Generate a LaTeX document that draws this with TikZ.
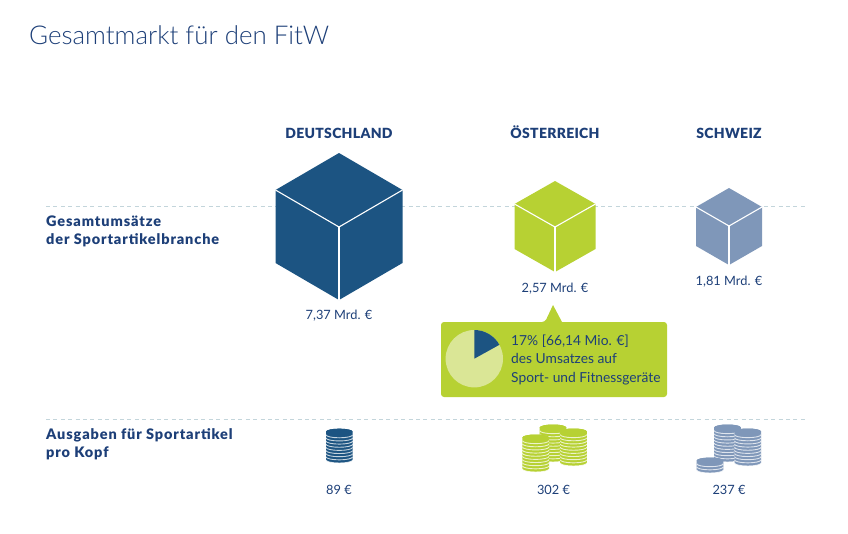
\documentclass[tikz,border=0pt]{standalone}
\usepackage{fontspec}
\setmainfont{Lato}
\newfontfamily\titlefont{Lato Light}
\newfontfamily\headfont[LetterSpace=2]{Lato Black}
\newfontfamily\rowfont[LetterSpace=6]{Lato Black}
\definecolor{deBlue}{HTML}{1C5482}
\definecolor{atGreen}{HTML}{B7D133}
\definecolor{chBlue}{HTML}{7F97B9}
\definecolor{pieLight}{HTML}{DAE696}
\definecolor{textBlue}{HTML}{1D3F78}
\definecolor{dashGrey}{HTML}{C3D5DB}
%% centre x, centre y, half width, rise, edge
\newcommand{\xCube}[5]{%%
  \fill (#1,#2+#4*2) -- (#1+#3,#2+#4) -- (#1+#3,#2+#4-#5) -- (#1,#2-#5)
    -- (#1-#3,#2+#4-#5) -- (#1-#3,#2+#4) -- cycle;
  \draw[cubeEdge] (#1-#3,#2+#4) -- (#1,#2) -- (#1+#3,#2+#4);
  \draw[cubeEdge] (#1,#2) -- (#1,#2-#5);
}
%% colour, centre x, bottom y, number of coins
\newcommand{\xCoins}[4]{%%
  \foreach \i in {1,...,#4}{
    \pgfmathsetmacro{\ycoin}{#3+3+(\i-1)*3.15}
    \fill[#1] (#2-13.3,\ycoin) arc[start angle=180,end angle=360,x radius=13.3,y radius=3]
      -- ++(0,3.15) arc[start angle=0,end angle=180,x radius=13.3,y radius=3] -- cycle;
    \draw[coinEdge] (#2-13.3,\ycoin) arc[start angle=180,end angle=360,x radius=13.3,y radius=3];
  };
  \fill[#1] (#2,#3+3+#4*3.15) ellipse[x radius=13.3,y radius=3];
}
\begin{document}
\begin{tikzpicture}[%%
  x=1pt,y=1pt,
  cubeEdge/.style={white,line width=1.1pt},%%
  coinEdge/.style={white,opacity=0.75,line width=0.9pt},%%
  ruleStyle/.style={dashGrey,line width=1pt,dash pattern=on 4pt off 3.4pt},%%
  titleStyle/.style={anchor=base west,inner sep=0,textBlue,font=\titlefont\fontsize{25.9}{31}\selectfont},%%
  headStyle/.style={anchor=base,inner sep=0,textBlue,font=\headfont\fontsize{14}{17}\selectfont},%%
  rowStyle/.style={anchor=base west,inner sep=0,textBlue,align=left,font=\rowfont\fontsize{14.5}{18}\selectfont},%%
  valueStyle/.style={anchor=base,inner sep=0,textBlue,font=\fontsize{12.8}{16}\selectfont},%%
  noteStyle/.style={anchor=base west,inner sep=0,textBlue,font=\fontsize{13.8}{17}\selectfont}
]
\useasboundingbox (0,0) rectangle (848,-533);
%%
%% The dashed rules.
\coordinate (ruleAw) at (46,-206);
\coordinate (ruleAe) at (805,-206);
\coordinate (ruleBw) at (46,-419);
\coordinate (ruleBe) at (805,-419);
\draw[ruleStyle] (ruleAw) -- (ruleAe);
\draw[ruleStyle] (ruleBw) -- (ruleBe);
%%
%% Texts.
\node[titleStyle] (titleText) at (29,-44) {Gesamtmarkt für den FitW};
\node[headStyle] (headDe) at (339,-138) {DEUTSCHLAND};
\node[headStyle] (headAt) at (555,-138) {ÖSTERREICH};
\node[headStyle] (headCh) at (729,-138) {SCHWEIZ};
\node[rowStyle] (rowSales) at (46,-244.5) {Gesamtumsätze\\der Sportartikelbranche};
\node[rowStyle] (rowSpend) at (46,-457.5) {Ausgaben für Sportartikel\\pro Kopf};
%%
%% The cubes.
\begin{scope}[deBlue]
  \xCube{339}{-227}{63.5}{37}{73}
\end{scope}
\begin{scope}[atGreen]
  \xCube{555}{-227}{40.5}{23}{45}
\end{scope}
\begin{scope}[chBlue]
  \xCube{729}{-226}{33}{19}{39}
\end{scope}
\node[valueStyle] (valDe) at (339,-319) {7,37 Mrd. €};
\node[valueStyle] (valAt) at (555,-292) {2,57 Mrd. €};
\node[valueStyle] (valCh) at (729,-285) {1,81 Mrd. €};
%%
%% The callout.
\fill[atGreen,rounded corners=3pt] (500,-322) -- (545,-322) [sharp corners] -- (553,-305) -- (562,-322)
  [rounded corners=3pt] -- (667,-322) -- (667,-397) -- (441,-397) -- (441,-322) -- cycle;
\fill[pieLight] (474.3,-358.7) circle[radius=28.7];
\fill[deBlue] (474.3,-358.7) -- (474.3,-330) arc[start angle=90,end angle=29,radius=28.7] -- cycle;
\node[noteStyle] (noteA) at (511,-345) {17\% [66,14 Mio. €]};
\node[noteStyle] (noteB) at (511,-363.5) {des Umsatzes auf};
\node[noteStyle] (noteC) at (511,-382) {Sport- und Fitnessgeräte};
%%
%% The coins.
\xCoins{deBlue}{339.3}{-463}{9}
\xCoins{atGreen}{553}{-462}{10}
\xCoins{atGreen}{573.5}{-466}{10}
\xCoins{atGreen}{535.7}{-472}{10}
\xCoins{chBlue}{727.5}{-462}{10}
\xCoins{chBlue}{747.8}{-466}{10}
\xCoins{chBlue}{710}{-473}{3}
\node[valueStyle] (spendDe) at (339,-494) {89 €};
\node[valueStyle] (spendAt) at (553.5,-494) {302 €};
\node[valueStyle] (spendCh) at (729,-494) {237 €};
\end{tikzpicture}
\end{document}
